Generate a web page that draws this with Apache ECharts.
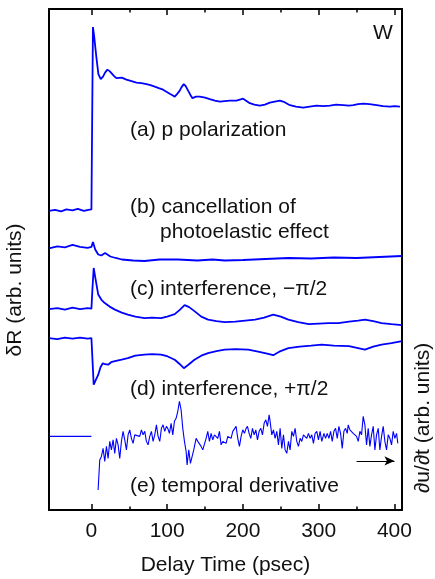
<!DOCTYPE html>
<html>
<head>
<meta charset="utf-8">
<script src="https://cdn.jsdelivr.net/npm/echarts@6/dist/echarts.min.js"></script>
<style>html,body{margin:0;padding:0;background:#fff}#c{width:435px;height:579px}</style>
</head>
<body>
<div id="c"></div>
<script>
// Delay time axis (psec)
const timeMin = -56, timeMax = 410;
const majorTicks = [0, 100, 200, 300, 400];
const minorTicks = [50, 150, 250, 350];

// (a) p polarization  [delay psec, signal arb. units]
const curveA = [[-56,59.7],[-48,59.9],[-40,59.6],[-33,60.0],[-25,59.8],[-18,60.1],[-10,59.7],[-4,59.9],[0,60.0],
[2,96.4],[3.5,94.7],[6.6,90.3],[9.2,87.0],[12.3,86.0],[15.3,86.5],[18,87.3],[21.1,87.9],[24,87.6],[26.4,87.2],[30,86.6],
[33,86.2],[40,86.3],[46.2,85.9],[53,85.6],[59.4,85.3],[66,85.2],[72.7,85.0],[78,84.8],[83.6,84.5],[89,84.2],[94.6,83.9],
[99,83.5],[103.4,83.1],[107,82.8],[110,82.5],[113,83.0],[116.6,83.7],[119,84.4],[121.9,85.0],[124.5,84.6],[127.6,83.7],
[130.5,82.9],[133.4,82.2],[138,82.5],[143,82.5],[150,82.3],[156.3,82.0],[163,81.7],[169.5,81.5],[176,81.6],[182.7,81.7],
[191.5,81.7],[200.3,82.1],[209.1,81.2],[215,80.9],[222.3,80.7],[229,80.9],[235.5,81.3],[242,81.5],[248.8,81.7],[255,81.4],
[262,80.8],[270,80.5],[279.6,80.3],[288,80.5],[297.2,80.7],[306,80.6],[314.8,80.7],[323,80.9],[332.4,80.8],[340,80.7],
[345.6,80.8],[352,81.0],[358.8,81.1],[367,81.0],[376.5,80.8],[385,80.6],[394.1,80.5],[400,80.6],[407.3,80.5]];

// (b) cancellation of photoelastic effect
const curveB = [[-56,52.2],[-45,52.6],[-35,52.4],[-25,52.9],[-15,52.5],[-5,52.3],[0,52.5],[2,53.5],[5,52.0],[9,51.0],
[13,50.8],[18,51.3],[25,50.6],[32,50.3],[40,50.0],[55,49.8],[70,49.7],[90,50.0],[114,50.0],[140,49.8],[160,50.0],[176,49.8],
[200,49.9],[230,50.1],[260,50.3],[290,50.2],[320,50.4],[350,50.3],[380,50.5],[410,50.7]];

// (c) interference, -pi/2
const curveC = [[-56,40.1],[-45,40.3],[-35,40.0],[-25,40.4],[-15,40.1],[-5,40.3],[0,40.2],[1.3,44],[3,48.3],[5,46.5],
[9,43.0],[13,42.0],[17.6,41.3],[24,40.6],[31,40.0],[40,39.4],[48,39.0],[58,38.6],[70,38.3],[80,38.4],[92,38.3],[100,38.6],
[110,39.1],[117,40.0],[123,40.9],[129,40.5],[136,39.7],[145,38.6],[154,38.0],[165,37.7],[176,37.5],[190,37.6],[203,37.8],
[216,38.0],[228,38.4],[240,39.0],[250,38.6],[260,38.0],[273,37.5],[287,37.1],[300,37.2],[313,37.3],[326,37.3],[340,37.6],
[352,37.8],[361,38.0],[372,37.7],[383,37.3],[396,37.1],[410,36.9]];

// (d) interference, +pi/2
const curveD = [[-56,34.3],[-45,34.1],[-35,34.4],[-25,34.2],[-15,34.4],[-5,34.2],[0,34.3],[3,25.0],[6,26.0],[9,27.0],
[12,28.5],[15,29.3],[18,29.1],[22,29.0],[26,29.5],[31,29.7],[40,30.0],[48,30.3],[58,30.8],[70,31.0],[80,31.1],[92,31.0],
[100,30.7],[110,30.0],[116,29.2],[122,28.3],[128,29.0],[136,30.0],[145,30.8],[154,31.3],[165,31.7],[176,32.0],[190,32.1],
[207,32.0],[220,31.6],[232,31.2],[240,30.9],[248,31.6],[260,32.3],[275,32.6],[290,32.8],[304,33.0],[320,32.8],[340,32.7],
[352,32.3],[361,32.0],[372,32.6],[383,33.0],[396,33.3],[410,33.7]];

// (e) temporal derivative
const curveEPre = [[-56,14.7],[0,14.7]];
const curveE = [[8.8,4.0],[11.0,10.0],[13.2,10.7],[15.4,12.3],[17.6,9.7],[19.8,12.7],[22.0,10.3],[24.2,13.7],[26.4,12.0],
[28.6,14.0],[30.8,11.3],[33.0,14.3],[35.2,13.0],[37.4,10.3],[39.6,13.7],[41.8,15.7],[44.0,14.0],[46.2,12.0],[48.4,15.0],
[50.6,16.0],[52.8,14.3],[55.0,13.3],[57.2,15.0],[59.4,15.3],[63.8,14.7],[66.0,16.0],[68.2,15.0],[70.4,15.7],[72.6,13.7],
[74.8,13.0],[77.0,14.7],[79.2,15.7],[81.4,13.7],[83.6,15.0],[85.8,17.0],[88.0,14.7],[90.2,13.7],[92.4,16.3],[94.6,17.0],
[96.8,15.7],[99.0,16.7],[100.8,16.3],[103.0,15.3],[105.2,17.3],[107.4,15.0],[109.6,17.7],[111.8,18.3],[114.0,19.7],
[116.2,21.7],[118.4,20.0],[120.6,16.3],[122.8,13.7],[125.0,11.7],[126.3,9.0],[128.5,12.0],[130.7,9.3],[132.9,9.0],
[135.1,12.0],[138.2,14.3],[140.4,13.7],[142.6,14.0],[144.8,12.7],[147.0,12.0],[149.2,12.3],[151.4,14.3],[153.6,15.7],
[155.8,13.7],[158.0,15.3],[160.2,14.0],[162.4,15.0],[164.6,15.3],[166.8,14.3],[169.0,15.7],[171.2,13.0],[173.4,13.7],
[175.6,14.0],[177.8,13.3],[180.0,14.7],[182.2,15.0],[184.4,14.3],[186.6,15.7],[188.8,16.0],[191.0,16.7],[193.2,14.3],
[195.4,12.7],[197.6,14.7],[199.8,16.0],[202.0,15.3],[204.2,16.3],[206.0,16.7],[208.2,15.3],[210.4,14.3],[212.6,16.3],
[214.8,15.0],[217.0,16.0],[219.2,14.0],[221.4,15.7],[223.6,16.3],[225.8,15.0],[228.0,17.3],[230.2,18.0],[232.4,16.7],
[234.6,19.0],[235.9,17.7],[238.1,15.0],[240.3,16.0],[242.5,14.3],[244.7,15.7],[246.9,13.0],[249.1,16.3],[251.3,12.3],
[253.5,15.0],[255.7,12.0],[257.9,11.3],[260.1,13.7],[262.3,12.0],[264.5,15.7],[266.7,14.7],[268.9,16.3],[271.1,13.7],
[273.3,12.7],[275.5,14.3],[277.7,13.7],[279.9,15.0],[282.1,14.7],[284.3,14.3],[286.5,15.3],[288.7,14.3],[290.9,15.0],
[293.1,13.3],[295.3,15.3],[297.5,15.7],[299.7,14.0],[301.9,15.7],[304.1,13.7],[307.0,15.3],[309.1,14.3],[311.3,15.3],
[313.5,14.3],[315.7,15.7],[317.9,13.7],[320.1,15.7],[322.3,16.3],[324.5,14.3],[326.7,16.7],[328.9,15.3],[331.1,12.3],
[333.3,15.7],[335.5,16.3],[337.7,15.3],[339.0,17.0],[341.2,16.0],[343.4,16.3],[345.6,15.3],[347.8,15.3],[350.0,14.7],
[352.2,13.7],[354.4,15.7],[356.6,15.0],[358.8,18.7],[361.0,17.0],[363.2,13.0],[365.4,16.3],[367.6,12.7],[369.8,15.0],
[372.0,16.7],[374.2,12.0],[376.4,15.0],[378.6,16.3],[380.8,12.0],[383.0,14.7],[385.2,16.7],[387.4,13.7],[389.6,12.0],
[391.8,15.0],[394.0,14.3],[396.2,13.0],[398.4,15.7],[400.6,14.3],[402.8,15.3],[404.5,13.3]];

// arrow pointing to the right axis
const arrowFrom = [350, 9.8], arrowTo = [400, 9.8];

const FONT = 'Liberation Sans, Arial, Helvetica, sans-serif';
const chart = echarts.init(document.getElementById('c'), null, {renderer: 'canvas'});

function xAx(pos, ticks, len, showLine, showLabel) {
  return {
    type: 'value', position: pos, min: timeMin, max: timeMax,
    axisLine: {show: showLine, onZero: false, lineStyle: {color: '#000', width: 2}},
    axisTick: {show: true, inside: true, length: len, customValues: ticks, lineStyle: {color: '#000', width: 1.5}},
    axisLabel: {show: showLabel, customValues: ticks, color: '#111', fontSize: 21, fontFamily: FONT, margin: 11},
    splitLine: {show: false}
  };
}
const xa0 = xAx('bottom', majorTicks, 6, true, true);
xa0.name = 'Delay Time (psec)';
xa0.nameLocation = 'middle';
xa0.nameGap = 45;
xa0.nameTextStyle = {color: '#111', fontSize: 21, fontFamily: FONT};

function yAx(pos) {
  return {
    type: 'value', position: pos, min: 0, max: 100,
    axisLine: {show: true, onZero: false, lineStyle: {color: '#000', width: 2}},
    axisTick: {show: false}, axisLabel: {show: false}, splitLine: {show: false}
  };
}

const lineS = (data, w) => ({
  type: 'line', data: data, showSymbol: false, symbol: 'none', xAxisIndex: 0, yAxisIndex: 0,
  lineStyle: {color: '#0000ff', width: w}, animation: false, silent: true
});

const texts = [
  ['(a) p polarization', 130, 130, 'left', 0],
  ['(b) cancellation of', 130, 207, 'left', 0],
  ['photoelastic effect', 160, 232, 'left', 0],
  ['(c) interference, \u2212\u03c0/2', 130, 289, 'left', 0],
  ['(d) interference, +\u03c0/2', 130, 389, 'left', 0],
  ['(e) temporal derivative', 130, 486, 'left', 0],
  ['W', 383, 33, 'center', 0],
  ['\u03b4R (arb. units)', 15, 290, 'center', Math.PI / 2],
  ['\u2202u/\u2202t (arb. units)', 423, 418, 'center', Math.PI / 2]
];

chart.setOption({
  animation: false,
  grid: {left: 49, right: 33, top: 9, bottom: 69, containLabel: false, outerBoundsMode: 'none'},
  xAxis: [xa0, xAx('bottom', minorTicks, 3.5, false, false), xAx('top', majorTicks, 6, true, false), xAx('top', minorTicks, 3.5, false, false)],
  yAxis: [yAx('left'), yAx('right')],
  series: [
    lineS(curveA, 1.8), lineS(curveB, 1.8), lineS(curveC, 1.8), lineS(curveD, 1.8),
    lineS(curveEPre, 1.1), lineS(curveE, 1.1),
    {type: 'line', data: [], xAxisIndex: 0, yAxisIndex: 0, silent: true,
     markLine: {silent: true, symbol: ['none', 'arrow'], symbolSize: [7, 10], label: {show: false},
       lineStyle: {color: '#000', width: 1, type: 'solid'},
       data: [[{coord: arrowFrom}, {coord: arrowTo}]]}}
  ],
  graphic: texts.map(t => ({
    type: 'text', x: t[1], y: t[2], rotation: t[4], silent: true,
    style: {text: t[0], fill: '#111', font: '21px ' + FONT, align: t[3], verticalAlign: 'middle'}
  }))
});
</script>
</body>
</html>
